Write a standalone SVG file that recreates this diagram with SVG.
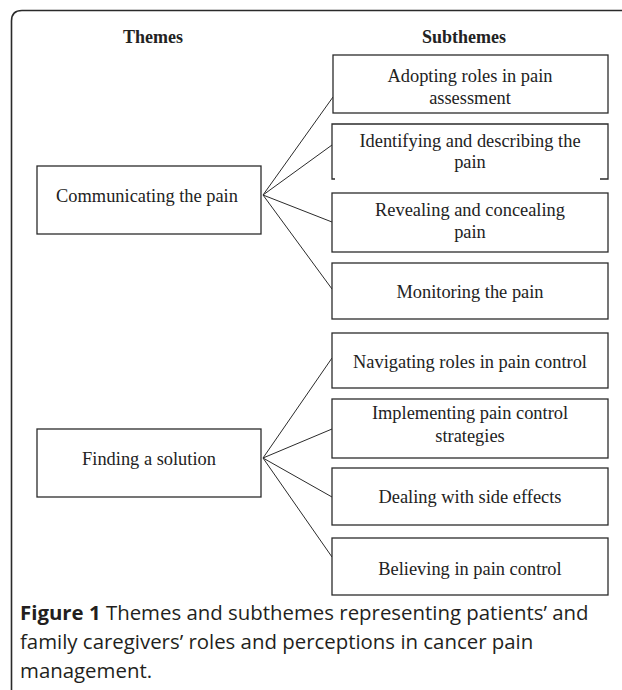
<svg xmlns="http://www.w3.org/2000/svg" width="622" height="690" viewBox="0 0 622 690">
<style>
.frame{fill:none;stroke:#2a2a2a;stroke-width:1.6}
.box{fill:#fff;stroke:#2b2b2b;stroke-width:1.3}
.open{fill:none;stroke:#2b2b2b;stroke-width:1.3}
.lnk{fill:none;stroke:#2b2b2b;stroke-width:1}
.t{font-family:"Liberation Serif","Times New Roman",serif;font-size:18.4px;fill:#222;text-anchor:middle}
.h{font-family:"Liberation Serif","Times New Roman",serif;font-size:18px;font-weight:bold;fill:#222;text-anchor:middle}
.cap{font-family:"Open Sans","Liberation Sans",sans-serif;font-size:20.4px;fill:#231f20}
.capb{font-weight:bold}
</style>
<rect width="622" height="690" fill="#fff"/>
<path class="frame" d="M11.5,690 V21 Q11.5,10.5 22,10.5 H622"/>
<text class="h" x="153" y="43">Themes</text>
<text class="h" x="464" y="43">Subthemes</text>
<g id="connectors">
<line class="lnk" x1="263" y1="195" x2="333" y2="97"/>
<line class="lnk" x1="263" y1="195" x2="332" y2="145"/>
<line class="lnk" x1="263" y1="195" x2="332" y2="222"/>
<line class="lnk" x1="263" y1="195" x2="332" y2="289"/>
<line class="lnk" x1="263" y1="458" x2="332" y2="358"/>
<line class="lnk" x1="263" y1="458" x2="332" y2="429"/>
<line class="lnk" x1="263" y1="458" x2="332" y2="497"/>
<line class="lnk" x1="263" y1="458" x2="332" y2="557"/>
</g>
<g id="theme-communicating">
<rect class="box" x="37" y="166" width="224" height="68"/>
<text class="t" x="147" y="202">Communicating the pain</text>
</g>
<g id="theme-finding">
<rect class="box" x="37" y="429" width="224" height="68"/>
<text class="t" x="149" y="465">Finding a solution</text>
</g>
<g id="sub-adopting">
<rect class="box" x="333" y="55" width="275" height="58"/>
<text class="t" x="470" y="82">Adopting roles in pain</text>
<text class="t" x="470" y="104">assessment</text>
</g>
<g id="sub-identifying">
<path class="open" d="M335,179 H332 V124 H608 V179 H600"/>
<text class="t" x="470" y="147">Identifying and describing the</text>
<text class="t" x="470" y="168">pain</text>
</g>
<g id="sub-revealing">
<rect class="box" x="332" y="193" width="276" height="59"/>
<text class="t" x="470" y="216">Revealing and concealing</text>
<text class="t" x="470" y="238">pain</text>
</g>
<g id="sub-monitoring">
<rect class="box" x="332" y="263" width="276" height="56"/>
<text class="t" x="470" y="298">Monitoring the pain</text>
</g>
<g id="sub-navigating">
<rect class="box" x="332" y="333" width="276" height="55"/>
<text class="t" x="470" y="368">Navigating roles in pain control</text>
</g>
<g id="sub-implementing">
<rect class="box" x="332" y="399" width="276" height="59"/>
<text class="t" x="470" y="419">Implementing pain control</text>
<text class="t" x="470" y="442">strategies</text>
</g>
<g id="sub-dealing">
<rect class="box" x="332" y="468" width="276" height="57"/>
<text class="t" x="470" y="503">Dealing with side effects</text>
</g>
<g id="sub-believing">
<rect class="box" x="332" y="538" width="276" height="57"/>
<text class="t" x="470" y="575">Believing in pain control</text>
</g>
<g id="caption">
<text class="cap" x="20" y="620"><tspan class="capb">Figure 1</tspan> Themes and subthemes representing patients’ and</text>
<text class="cap" x="20" y="649">family caregivers’ roles and perceptions in cancer pain</text>
<text class="cap" x="20" y="678">management.</text>
</g>
</svg>
